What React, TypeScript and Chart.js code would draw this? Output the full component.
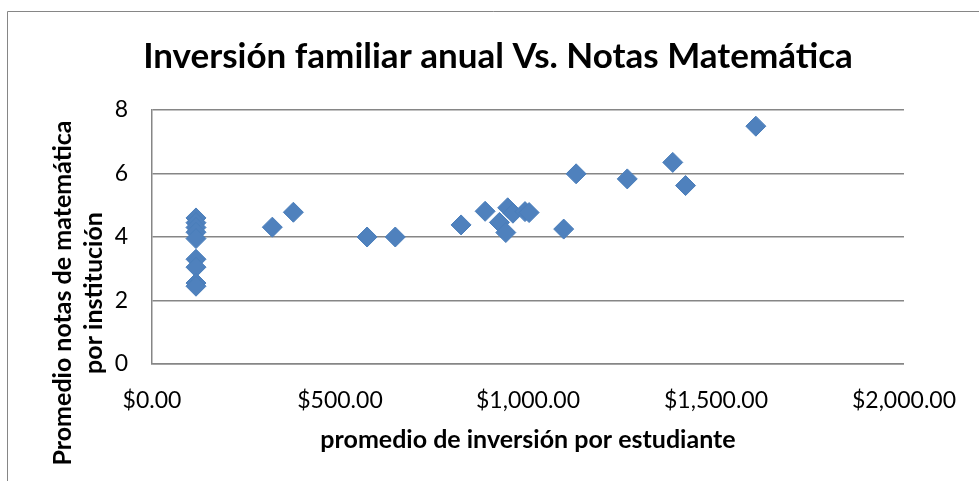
import React, { useEffect, useRef } from "react";
import { Chart, registerables } from "chart.js";

Chart.register(...registerables);

// ---- data ----
const investment = [117, 117, 117, 117, 117, 117, 117, 117, 117, 320, 376, 572, 647, 822, 886, 924, 941, 946, 960, 992, 1003, 1095, 1128, 1264, 1385, 1419, 1606];
const mathScores = [4.6, 4.45, 4.3, 4.15, 3.95, 3.3, 3.05, 2.55, 2.45, 4.31, 4.78, 4.0, 4.0, 4.38, 4.81, 4.46, 4.14, 4.92, 4.75, 4.8, 4.77, 4.25, 5.99, 5.83, 6.35, 5.62, 7.49];
const xTickValues = [0, 500, 1000, 1500, 2000];
const yTickValues = [0, 2, 4, 6, 8];
const chartTitle = "Inversión familiar anual Vs. Notas Matemática";
const xAxisTitle = "promedio de inversión por estudiante";
const yAxisTitle = ["Promedio notas de matemática", "por institución"];

const money = (v: number) =>
  "$" + v.toLocaleString("en-US", { minimumFractionDigits: 2, maximumFractionDigits: 2 });

const W = 979;
const H = 481;
const FONT = "Lato, 'Open Sans', sans-serif";

const decorPlugin = {
  id: "decor",
  beforeDraw(chart: any) {
    const ctx = chart.ctx;
    ctx.save();
    ctx.fillStyle = "#ffffff";
    ctx.fillRect(0, 0, chart.width, chart.height);
    ctx.restore();
  },
  afterDraw(chart: any) {
    const ctx = chart.ctx;
    const area = chart.chartArea;
    ctx.save();
    // outer frame
    ctx.strokeStyle = "#868686";
    ctx.lineWidth = 1;
    ctx.beginPath();
    ctx.moveTo(7.5, chart.height);
    ctx.lineTo(7.5, 11.5);
    ctx.lineTo(chart.width, 11.5);
    ctx.stroke();

    ctx.fillStyle = "#000000";
    ctx.textBaseline = "alphabetic";
    // main title
    ctx.textAlign = "center";
    ctx.font = `bold 35px ${FONT}`;
    ctx.fillText(chartTitle, 498, 68);

    // x axis title
    ctx.font = `bold 25px ${FONT}`;
    ctx.fillText(xAxisTitle, (area.left + area.right) / 2, 448);

    // y axis title (rotated)
    ctx.font = `bold 25px ${FONT}`;
    ctx.translate(0, 293);
    ctx.rotate(-Math.PI / 2);
    ctx.fillText(yAxisTitle[0], 0, 71);
    ctx.fillText(yAxisTitle[1], 0, 102);
    ctx.restore();
  },
};

export default function App() {
  const canvasRef = useRef<HTMLCanvasElement | null>(null);

  useEffect(() => {
    const canvas = canvasRef.current;
    if (!canvas) return;
    const points = investment.map((x, i) => ({ x, y: mathScores[i] }));
    const chart = new Chart(canvas, {
      type: "scatter",
      data: {
        datasets: [
          {
            label: "Notas",
            data: points,
            pointStyle: "rectRot",
            pointRadius: 10,
            pointHoverRadius: 10,
            backgroundColor: "#4F81BD",
            borderColor: "#4A7EBB",
            borderWidth: 1,
          },
        ],
      },
      options: {
        responsive: false,
        animation: false,
        events: [],
        layout: { padding: { left: 0, top: 110, right: W - 907, bottom: 0 } },
        plugins: {
          legend: { display: false },
          title: { display: false },
          tooltip: { enabled: false },
        },
        scales: {
          x: {
            type: "linear",
            min: 0,
            max: 2000,
            afterBuildTicks: (scale: any) => {
              scale.ticks = xTickValues.map((v) => ({ value: v }));
            },
            afterFit: (scale: any) => {
              scale.height = H - 364;
            },
            grid: { display: false, drawTicks: false },
            border: { display: true, color: "#868686", width: 1.5 },
            ticks: {
              padding: 23,
              color: "#000000",
              font: { family: FONT, size: 23 },
              maxRotation: 0,
              autoSkip: false,
              callback: (v: any) => money(Number(v)),
            },
          },
          y: {
            type: "linear",
            min: 0,
            max: 8,
            afterBuildTicks: (scale: any) => {
              scale.ticks = yTickValues.map((v) => ({ value: v }));
            },
            afterFit: (scale: any) => {
              scale.width = 152;
            },
            grid: { display: true, color: "#868686", lineWidth: 1.5, drawTicks: false },
            border: { display: true, color: "#868686", width: 1.5 },
            ticks: {
              padding: 24,
              color: "#000000",
              font: { family: FONT, size: 23 },
              callback: (v: any) => String(v),
            },
          },
        },
      },
      plugins: [decorPlugin],
    });
    return () => chart.destroy();
  }, []);

  return (
    <div style={{ position: "absolute", left: 0, top: 0, width: W, height: H, background: "#fff" }}>
      <canvas ref={canvasRef} width={W} height={H} style={{ display: "block" }} />
    </div>
  );
}
